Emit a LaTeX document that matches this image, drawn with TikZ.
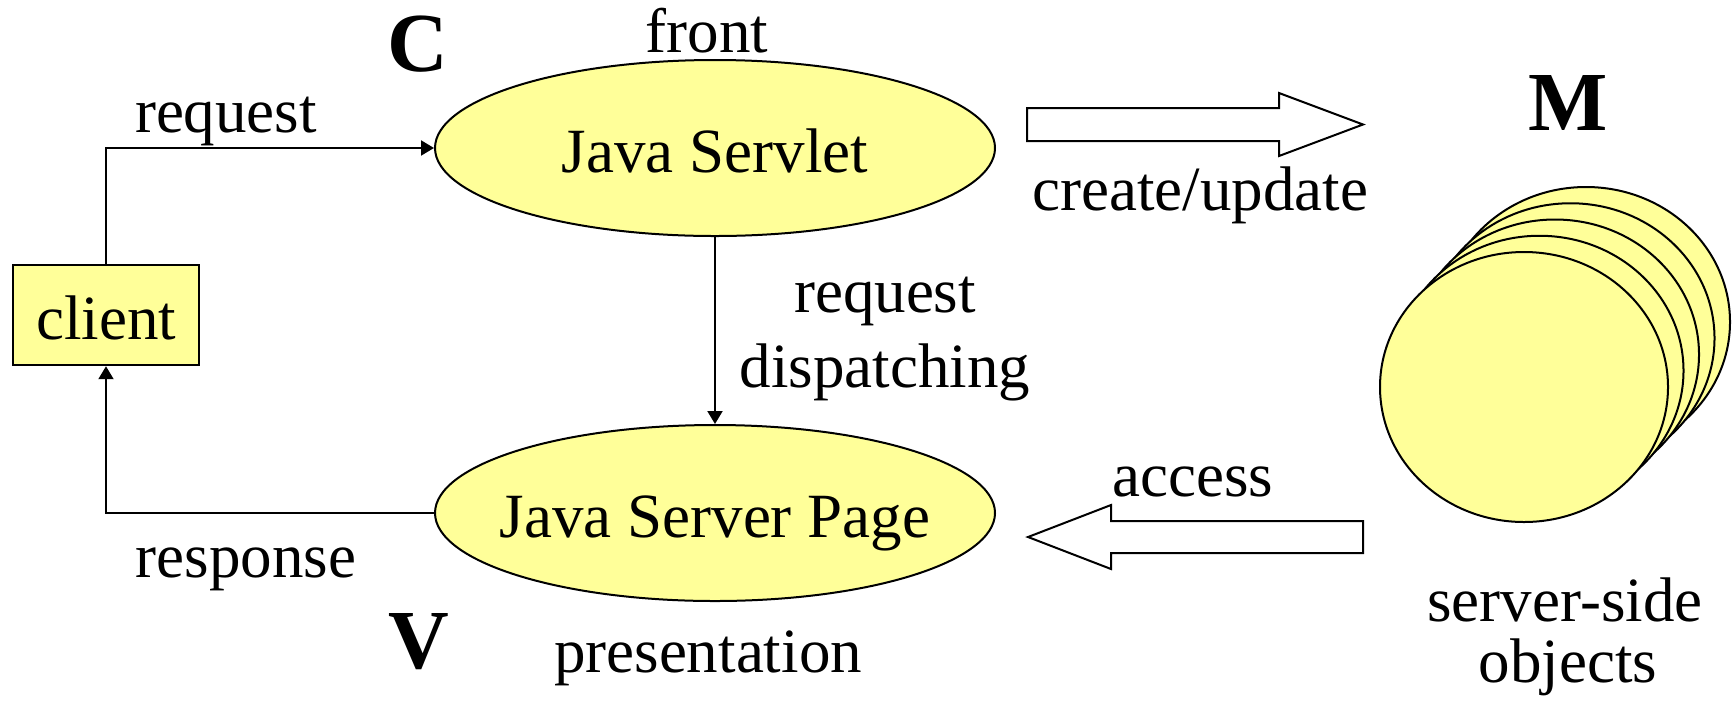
\documentclass[tikz,border=0pt]{standalone}
\usepackage{fontspec}
\setmainfont{Liberation Serif}
\usetikzlibrary{arrows.meta,shapes.geometric}
\definecolor{paleyellow}{RGB}{255,255,153}
\tikzset{
  txt/.style={inner sep=0pt, anchor=base, font=\fontsize{31.5}{38}\selectfont},
  big/.style={inner sep=0pt, anchor=base, font=\fontsize{42}{50}\selectfont\bfseries},
  oval/.style={ellipse, draw=black, line width=1pt, fill=paleyellow, inner sep=0pt,
    minimum width=280pt, minimum height=88pt, text height=24pt, text depth=0pt,
    font=\fontsize{31.5}{38}\selectfont},
  box/.style={rectangle, draw=black, line width=1.2pt, fill=paleyellow, inner sep=0pt,
    minimum width=93pt, minimum height=50pt, text height=24pt, text depth=0pt,
    font=\fontsize{31.5}{38}\selectfont},
  conn/.style={line width=1pt, -{Triangle[length=6.5pt,width=7.5pt]}},
  fat/.style={draw=black, line width=1pt, fill=white, line join=miter},
  obj/.style={draw=black, line width=1pt, fill=paleyellow}
}
\begin{document}
\begin{tikzpicture}[x=0.5pt,y=-0.5pt]
\useasboundingbox (0,0) rectangle (1733,708);
% main nodes
\node[oval] (servlet) at (715,148) {\makebox[0pt]{Java Servlet}};
\node[oval] (jsp) at (715,513) {\makebox[0pt]{Java Server Page}};
\node[box] (client) at (106,315) {client};
% connectors
\draw[conn] (client.north) |- (servlet.west);
\draw[conn] (jsp.west) -| (client.south);
\draw[conn] (servlet.south) -- (jsp.north);
% block arrows
\draw[fat] (1027,108) -- (1279,108) -- (1279,93) -- (1363,124.5) -- (1279,156) -- (1279,141) -- (1027,141) -- cycle;
\draw[fat] (1028,537) -- (1111,505) -- (1111,521) -- (1363,521) -- (1363,553) -- (1111,553) -- (1111,569) -- cycle;
% server-side objects
\foreach \i in {4,3,2,1,0}{
  \draw[obj] ({1524+15.5*\i},{387-16.25*\i}) ellipse [x radius=72pt, y radius=67.5pt];
}
% labels
\node[big] (lc) at (418,71) {C};
\node[big] (lv) at (419,668) {V};
\node[big] (lm) at (1568,130) {M};
\node[txt] (lfront) at (707,52) {front};
\node[txt] (lreq) at (226,132) {request};
\node[txt] (lresp) at (246,577) {response};
\node[txt] (ldisp1) at (885,312) {request};
\node[txt] (ldisp2) at (885,387) {dispatching};
\node[txt] (lpres) at (708,672) {presentation};
\node[txt] (lcreate) at (1200,210) {create/update};
\node[txt] (laccess) at (1193,496) {access};
\node[txt] (lsso1) at (1565,621) {server-side};
\node[txt] (lsso2) at (1568,682) {objects};
\end{tikzpicture}
\end{document}
